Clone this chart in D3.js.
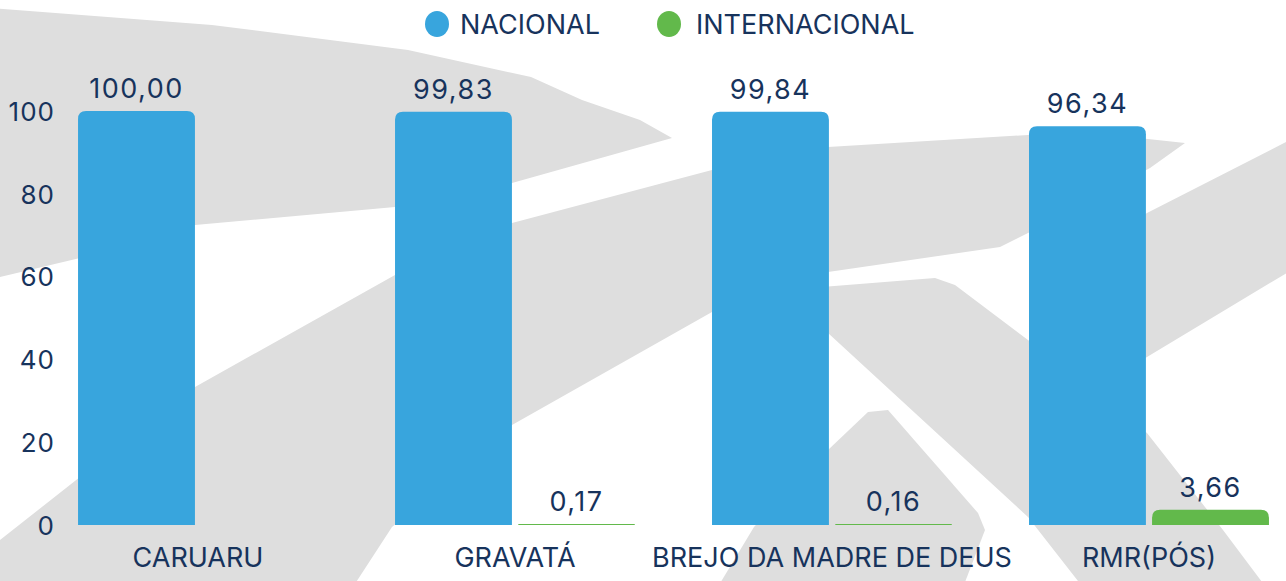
<!DOCTYPE html>
<html>
<head>
<meta charset="utf-8">
<script src="https://cdn.jsdelivr.net/npm/d3@7"></script>
<style>
  html, body { margin: 0; padding: 0; background: #ffffff; }
  svg text { font-family: Inter, "Open Sans", sans-serif; fill: #17335c; }
</style>
</head>
<body>
<div id="chart"></div>
<script>
// data
const categories = ['CARUARU', 'GRAVATÁ', 'BREJO DA MADRE DE DEUS', 'RMR(PÓS)'];
const series = ['NACIONAL', 'INTERNACIONAL'];
const nacional = [100.00, 99.83, 99.84, 96.34];
const internacional = [null, 0.17, 0.16, 3.66];
const yTicks = [0, 20, 40, 60, 80, 100];

const colors = { NACIONAL: '#38a5dd', INTERNACIONAL: '#62b94b' };

const width = 1286, height = 581;

const svg = d3.select('#chart')
  .append('svg')
  .attr('width', width)
  .attr('height', height);

// light grey watermark behind the chart (decoration only)
const marks = [
  [[-10,8],[212,25],[408,50],[531,77],[582,100],[640,120],[672,138],[512,183],[395,207],[195,225],[80,258],[0,277],[-10,280]],
  [[-70,590],[0,540],[80,477],[195,387],[395,275],[512,223],[712,170],[828,147],[1028,135],[1120,136],[1185,143],
   [1150,168],[1090,200],[1028,233],[1000,247],[828,272],[712,312],[512,425],[392,527],[351,590]],
  [[1290,140],[1290,271],[1147,357],[1040,422],[1040,278],[1147,213]],
  [[760,292],[935,278],[955,285],[1028,340],[1147,433],[1223,530],[1268,590],[1085,590],[1028,517],[828,333],[760,300]],
  [[716,590],[754,527],[828,450],[868,412],[888,410],[978,513],[985,530],[962,590]]
];
svg.append('g')
  .selectAll('path')
  .data(marks)
  .enter()
  .append('path')
  .attr('d', d3.line().curve(d3.curveLinearClosed))
  .style('fill', '#dedede');

const x0 = d3.scaleBand()
  .domain(categories)
  .range([40, 1307])
  .paddingInner(0.243)
  .paddingOuter(0.12);

const x1 = d3.scaleBand()
  .domain(series)
  .range([0, x0.bandwidth()])
  .paddingInner(0.05);

const y = d3.scaleLinear()
  .domain([0, 100])
  .range([525, 111]);

// y axis labels only
const yAxis = svg.append('g')
  .attr('transform', 'translate(55,0)')
  .call(d3.axisLeft(y).tickValues(yTicks).tickSize(0).tickPadding(0).tickFormat(d3.format('d')));
yAxis.select('.domain').remove();
yAxis.selectAll('text')
  .attr('dy', '0.36em')
  .style('font-size', '26px')
  .style('letter-spacing', '1px')
  .style('font-family', null)
  .attr('fill', null);

// category labels
const xAxis = svg.append('g')
  .attr('transform', 'translate(0,525)')
  .call(d3.axisBottom(x0).tickSize(0));
xAxis.select('.domain').remove();
xAxis.selectAll('text')
  .attr('y', 42)
  .attr('dy', 0)
  .style('font-size', '27px')
  .style('font-family', null)
  .attr('fill', null);

function topRounded(x, yTop, w, h, r) {
  r = Math.min(r, w / 2, h);
  return `M${x},${yTop + h}L${x},${yTop + r}Q${x},${yTop} ${x + r},${yTop}` +
         `L${x + w - r},${yTop}Q${x + w},${yTop} ${x + w},${yTop + r}L${x + w},${yTop + h}Z`;
}

const rows = [];
categories.forEach((c, i) => {
  rows.push({ cat: c, s: 'NACIONAL', v: nacional[i] });
  rows.push({ cat: c, s: 'INTERNACIONAL', v: internacional[i] });
});
const shown = rows.filter(d => d.v != null);

const bars = svg.append('g');

bars.selectAll('path')
  .data(shown)
  .enter()
  .append('path')
  .attr('d', d => {
    const bx = x0(d.cat) + x1(d.s);
    const h = Math.max(1, y(0) - y(d.v));
    return topRounded(bx, y(0) - h, x1.bandwidth(), h, 8);
  })
  .style('fill', d => colors[d.s]);

bars.selectAll('text')
  .data(shown)
  .enter()
  .append('text')
  .attr('x', d => x0(d.cat) + x1(d.s) + x1.bandwidth() / 2)
  .attr('y', d => y(d.v) - 13)
  .attr('text-anchor', 'middle')
  .style('font-size', '27px')
  .style('letter-spacing', '1.5px')
  .text(d => d3.format('.2f')(d.v).replace('.', ','));

// legend
const legendX = [437, 669];
const legend = svg.append('g')
  .selectAll('g')
  .data(series)
  .enter()
  .append('g')
  .attr('transform', (d, i) => `translate(${legendX[i]},24)`);

legend.append('ellipse')
  .attr('rx', 12)
  .attr('ry', 13)
  .style('fill', d => colors[d]);

legend.append('text')
  .attr('x', (d, i) => i === 0 ? 23 : 27)
  .attr('y', 10)
  .style('font-size', '27px')
  .text(d => d);
</script>
</body>
</html>
